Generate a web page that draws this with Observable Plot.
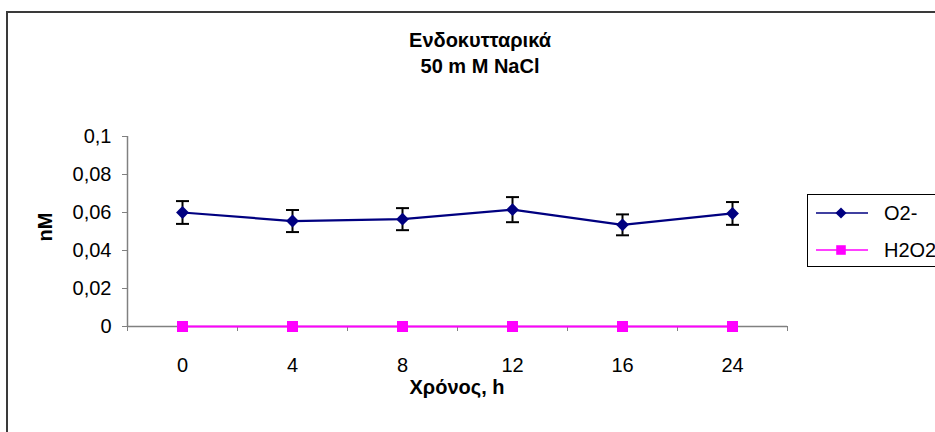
<!DOCTYPE html>
<html>
<head>
<meta charset="utf-8">
<script src="https://cdn.jsdelivr.net/npm/d3@7"></script>
<script src="https://cdn.jsdelivr.net/npm/@observablehq/plot@0.6"></script>
<style>
  html, body { margin: 0; padding: 0; background: #fff; overflow: hidden; }
  #wrap { position: relative; width: 935px; height: 432px; font-family: "Liberation Sans", Arial, sans-serif; }
  #frame { position: absolute; left: 6px; top: 11px; width: 1000px; height: 500px; border: 2px solid #3a3a3a; box-sizing: border-box; pointer-events: none; }
  #overlay { position: absolute; left: 0; top: 0; pointer-events: none; }
  #legend { position: absolute; left: 807px; top: 194px; width: 140px; height: 73px; border: 1px solid #000; box-sizing: border-box; background: #fff; }
</style>
</head>
<body>
<div id="wrap">
  <div id="chart"></div>
  <div id="frame"></div>
  <div id="legend"></div>
</div>
<script>
// ---- data ----
const titleLines = ["Ενδοκυτταρικά", "50 m M NaCl"];
const xTitle = "Χρόνος, h";
const yTitle = "nM";
const times = ["0", "4", "8", "12", "16", "24"];
const o2 = [0.0600, 0.0555, 0.0565, 0.0615, 0.0535, 0.0595];
const o2err = [0.0060, 0.0058, 0.0058, 0.0066, 0.0055, 0.0060];
const h2o2 = [0, 0, 0, 0, 0, 0];
const yTicks = [0, 0.02, 0.04, 0.06, 0.08, 0.1];
const seriesNames = ["O2-", "H2O2"];

const navy = "#000080";
const magenta = "#FF00FF";
const FONT = "'Liberation Sans', Arial, sans-serif";
const FS = 20;

const o2Data = times.map((t, i) => ({i, v: o2[i], lo: o2[i] - o2err[i], hi: o2[i] + o2err[i]}));
const h2Data = times.map((t, i) => ({i, v: h2o2[i]}));

const capSymbol = {
  draw(ctx, size) {
    const r = Math.sqrt(size / Math.PI);
    ctx.moveTo(-r, 0);
    ctx.lineTo(r, 0);
  }
};

const idx = d3.range(times.length);
const bounds = d3.range(times.length + 1).map(k => k - 0.5);

const plot = Plot.plot({
  width: 935,
  height: 432,
  marginLeft: 127,
  marginRight: 148,
  marginTop: 136,
  marginBottom: 106,
  style: {fontFamily: FONT, fontSize: FS + "px", color: "#000", background: "transparent"},
  x: {type: "linear", domain: [-0.5, times.length - 0.5]},
  y: {domain: [0, 0.1]},
  marks: [
    Plot.ruleX([-0.5], {stroke: "#808080", strokeWidth: 1.5}),
    Plot.axisY({ticks: yTicks, tickSize: 5, tickPadding: 11, stroke: "#808080", fill: "#000",
      fontSize: FS, tickFormat: d => String(d).replace(".", ","), label: null}),
    Plot.axisX({ticks: bounds, tickSize: 5, tickFormat: () => "", stroke: "#808080", label: null}),
    Plot.axisX({ticks: idx, tickSize: 0, tickPadding: 31, fontSize: FS, tickFormat: i => times[i], fill: "#000", label: null}),
    Plot.ruleY([0], {stroke: "#808080", strokeWidth: 1.5}),
    // O2- series
    Plot.line(o2Data, {x: "i", y: "v", stroke: navy, strokeWidth: 2.2}),
    Plot.ruleX(o2Data, {x: "i", y1: "lo", y2: "hi", stroke: "#000", strokeWidth: 2}),
    Plot.dot(o2Data, {x: "i", y: "lo", symbol: capSymbol, r: 6.5, stroke: "#000", strokeWidth: 2, fill: "none"}),
    Plot.dot(o2Data, {x: "i", y: "hi", symbol: capSymbol, r: 6.5, stroke: "#000", strokeWidth: 2, fill: "none"}),
    Plot.dot(o2Data, {x: "i", y: "v", symbol: "diamond2", r: 5.8, fill: navy, stroke: "none"}),
    // H2O2 series
    Plot.line(h2Data, {x: "i", y: "v", stroke: magenta, strokeWidth: 2.2}),
    Plot.dot(h2Data, {x: "i", y: "v", symbol: "square", r: 6.2, fill: magenta, stroke: "none"})
  ]
});
document.getElementById("chart").appendChild(plot);

// ---- titles overlay ----
const ov = d3.select("#wrap").append("svg").attr("id", "overlay")
  .attr("width", 935).attr("height", 432);
const tg = ov.append("g").attr("font-family", FONT).attr("font-size", FS).attr("font-weight", "bold").attr("fill", "#000");
tg.selectAll("text.title").data(titleLines).join("text").attr("class", "title")
  .attr("x", 480).attr("y", (d, k) => 47 + k * 26).attr("text-anchor", "middle").text(d => d);
tg.append("text").attr("x", 457).attr("y", 394).attr("text-anchor", "middle").text(xTitle);
tg.append("text").attr("transform", "translate(52,227) rotate(-90)").attr("text-anchor", "middle").text(yTitle);

// ---- legend ----
const lg = d3.select("#legend").append("svg").attr("width", 140).attr("height", 73).style("display", "block");
const colors = [navy, magenta];
const symbols = [d3.symbolDiamond2, d3.symbolSquare];
const sizes = [5.0 * 5.0 * Math.PI, 5.4 * 5.4 * Math.PI];
const rowY = [18, 55];
seriesNames.forEach((name, k) => {
  const g = lg.append("g").attr("transform", `translate(0,${rowY[k]})`);
  g.append("line").attr("x1", 8).attr("x2", 60).attr("y1", 0).attr("y2", 0)
    .attr("stroke", colors[k]).attr("stroke-width", 1.5);
  g.append("path").attr("transform", "translate(33,0)")
    .attr("d", d3.symbol(symbols[k], sizes[k])())
    .attr("fill", colors[k]);
  g.append("text").attr("x", 76).attr("y", 7)
    .attr("font-family", FONT).attr("font-size", FS)
    .text(name);
});
</script>
</body>
</html>
